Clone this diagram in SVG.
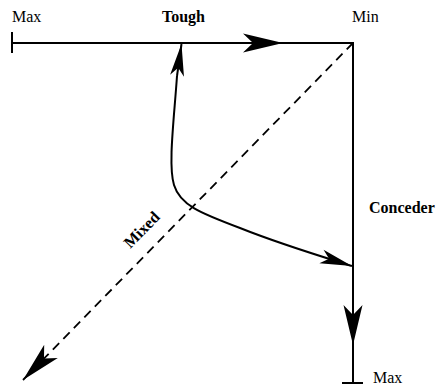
<svg xmlns="http://www.w3.org/2000/svg" width="438" height="385" viewBox="0 0 438 385">
<style>
.ln{fill:none;stroke:#000;stroke-width:2}
.ds{fill:none;stroke:#000;stroke-width:1.8;stroke-dasharray:9,6}
.t{font-family:"Liberation Serif",serif;font-size:16px;fill:#000}
.b{font-weight:bold}
</style>
<defs>
<marker id="ah" markerUnits="userSpaceOnUse" markerWidth="44" markerHeight="22" viewBox="-42 -11 44 22" refX="0" refY="0" orient="auto" overflow="visible">
<path d="M0,0 L-40,-9.5 L-30,0 L-40,9.5 Z" fill="#000"/>
</marker>
<marker id="as" markerUnits="userSpaceOnUse" markerWidth="36" markerHeight="18" viewBox="-34 -9 36 18" refX="0" refY="0" orient="auto" overflow="visible">
<path d="M0,0 L-32,-7 L-24,0 L-32,7 Z" fill="#000"/>
</marker>
</defs>
<rect width="438" height="385" fill="#fff"/>
<g id="connectors">
<line class="ln" x1="12" y1="32" x2="12" y2="53"/>
<line class="ln" x1="12" y1="43" x2="283" y2="43" marker-end="url(#ah)"/>
<line class="ln" x1="283" y1="43" x2="353" y2="43"/>
<line class="ln" x1="353" y1="42" x2="353" y2="345" marker-end="url(#ah)"/>
<line class="ln" x1="353" y1="345" x2="353" y2="383"/>
<line class="ln" x1="342" y1="383" x2="363" y2="383"/>
<line class="ds" x1="353" y1="43" x2="23" y2="380" marker-end="url(#ah)"/>
<path class="ln" d="M177,76 C174,120 168,165 174,185 C180,205 200,213 240,228 C280,244 320,256 352,266" marker-end="url(#as)"/>
<line class="ln" x1="177" y1="76" x2="181.5" y2="44" marker-end="url(#as)"/>
</g>
<g id="label-max-top"><text class="t" x="12" y="22">Max</text></g>
<g id="label-tough"><text class="t b" x="162" y="22">Tough</text></g>
<g id="label-min"><text class="t" x="352" y="22">Min</text></g>
<g id="label-conceder"><text class="t b" x="369" y="213">Conceder</text></g>
<g id="label-max-bottom"><text class="t" x="373" y="383">Max</text></g>
<g id="label-mixed"><text class="t b" transform="translate(145.5,233.5) rotate(-45.5)" text-anchor="middle">Mixed</text></g>
</svg>
